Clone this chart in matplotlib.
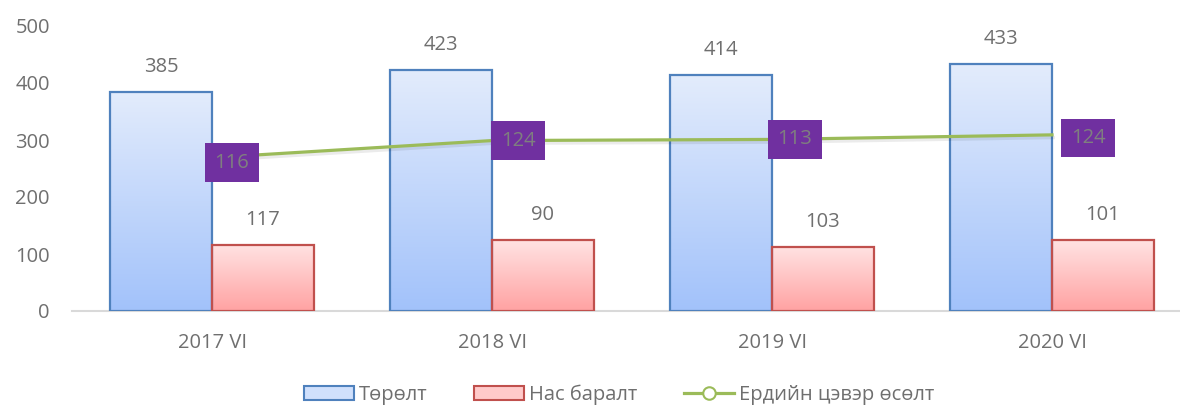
import numpy as np
import matplotlib.pyplot as plt
from matplotlib.patches import Rectangle, Patch
from matplotlib.lines import Line2D
from matplotlib.colors import LinearSegmentedColormap
import matplotlib.patheffects as pe

plt.rcParams['font.family'] = ['Open Sans', 'DejaVu Sans']

# data
categories = ['2017 VI', '2018 VI', '2019 VI', '2020 VI']
births = [385, 423, 414, 433]
deaths = [116, 124, 113, 124]
net_growth = [269, 299, 301, 309]
births_labels = ['385', '423', '414', '433']
deaths_labels = ['117', '90', '103', '101']
net_labels = ['116', '124', '113', '124']
series_names = ['Төрөлт', 'Нас баралт', 'Ердийн цэвэр өсөлт']
yticks = [0, 100, 200, 300, 400, 500]

# label box offsets (pixels) from the line points
net_offsets = [(20, -5), (26, 0), (23, 0), (36, -3)]

gray = '#6f6f6f'
fs = 14.5
bw = 0.364

fig = plt.figure(figsize=(11.8, 4.05), dpi=100)
ax = fig.add_axes([72 / 1180, 94 / 405, 1120 / 1180, 285 / 405])


def grad_bar(x0, h, top, bottom, edge):
    cmap = LinearSegmentedColormap.from_list('g', [bottom, top])
    grad = np.linspace(0, 1, 256).reshape(-1, 1)
    ax.imshow(grad, extent=[x0, x0 + bw, 0, h], origin='lower', cmap=cmap,
              aspect='auto', zorder=2, interpolation='bilinear')
    ax.add_patch(Rectangle((x0, 0), bw, h, fill=False, edgecolor=edge,
                           lw=1.6, zorder=3))


x = np.arange(len(categories))
for i in x:
    grad_bar(i - bw, births[i], '#e3ecfc', '#a2c2fa', '#4f81bd')
    grad_bar(i, deaths[i], '#ffe3e3', '#ffa2a2', '#c0504d')
    ax.annotate(births_labels[i], (i - bw / 2, births[i]), xytext=(0, 18),
                textcoords='offset points', ha='center', va='center',
                fontsize=fs, color=gray)
    ax.annotate(deaths_labels[i], (i + bw / 2, deaths[i]), xytext=(0, 18),
                textcoords='offset points', ha='center', va='center',
                fontsize=fs, color=gray)

ax.plot(x, net_growth, color='#9bbb59', lw=2.3, zorder=4,
        path_effects=[pe.SimpleLineShadow(offset=(1, -2), alpha=0.08),
                      pe.Normal()])

for i in x:
    dx, dy = net_offsets[i]
    ax.annotate(net_labels[i], (i, net_growth[i]),
                xytext=(dx * 0.72, dy * 0.72), textcoords='offset points',
                ha='center', va='center', fontsize=fs, color='#7f7f7f',
                zorder=6,
                bbox=dict(boxstyle='square,pad=0.46', fc='#7030a0', ec='none'))

ax.set_xlim(-0.5, 3.5)
ax.set_ylim(0, 500)
ax.set_yticks(yticks)
ax.set_xticks(x)
ax.set_xticklabels(categories)
ax.tick_params(axis='both', length=0, labelsize=fs, labelcolor=gray)
ax.tick_params(axis='y', pad=16)
ax.tick_params(axis='x', pad=16)
for s in ['top', 'right', 'left']:
    ax.spines[s].set_visible(False)
ax.spines['bottom'].set_color('#d9d9d9')
ax.spines['bottom'].set_linewidth(1.5)

handles = [
    Patch(facecolor='#d0e0fc', edgecolor='#4f81bd', lw=1.5),
    Patch(facecolor='#ffcaca', edgecolor='#c0504d', lw=1.5),
    Line2D([], [], color='#9bbb59', lw=2.3, marker='o', markersize=9,
           markerfacecolor='white', markeredgecolor='#9bbb59', markeredgewidth=1.5),
]
fig.legend(handles, series_names, loc='center', bbox_to_anchor=(619 / 1180, 1 - 395 / 405),
           ncol=3, frameon=False, fontsize=fs, labelcolor=gray,
           handlelength=2.5, handleheight=0.65, handletextpad=0.25, columnspacing=2.3)

fig.savefig('out.png', dpi=100)
